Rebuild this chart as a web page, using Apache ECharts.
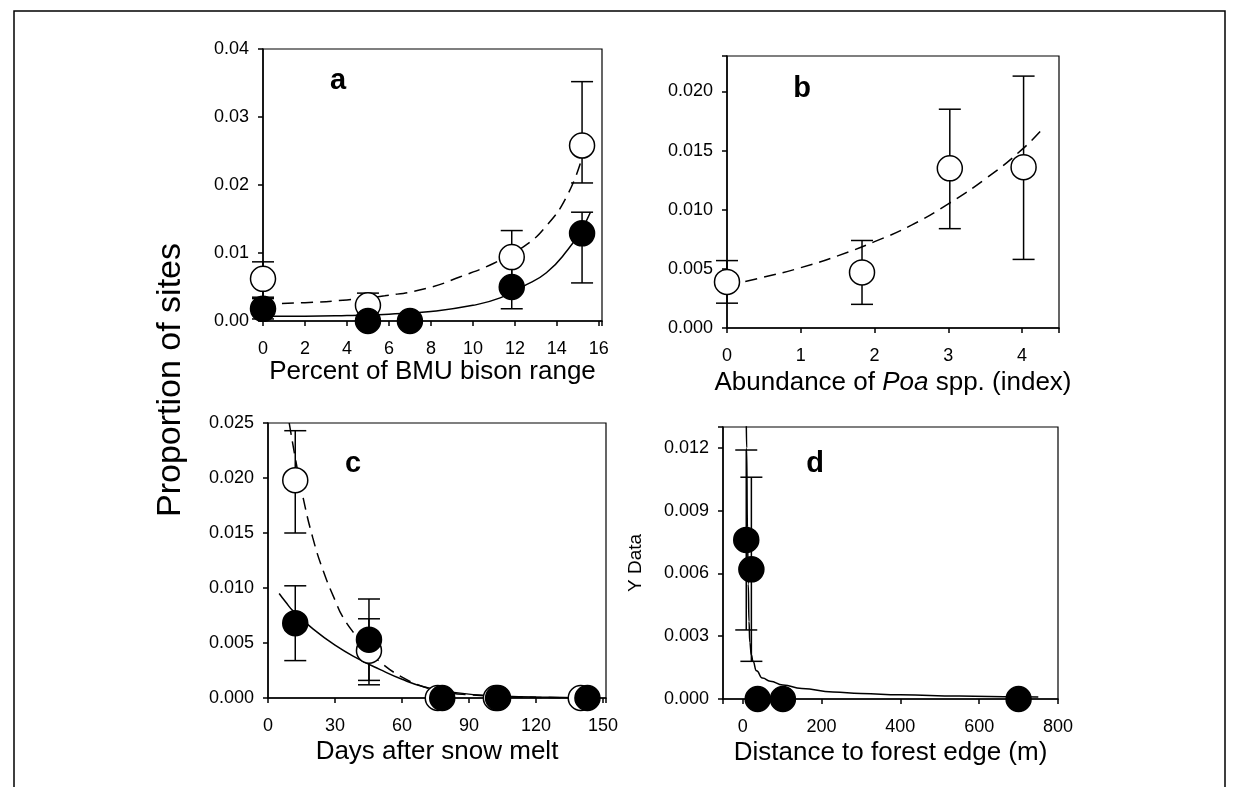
<!DOCTYPE html>
<html>
<head>
<meta charset="utf-8">
<script src="https://cdn.jsdelivr.net/npm/echarts@6/dist/echarts.min.js"></script>
<style>
html,body{margin:0;padding:0;background:#fff;}
#chart{width:1240px;height:787px;}
</style>
</head>
<body>
<div id="chart"></div>
<script>
// ---------------- Panel a: Percent of BMU bison range ----------------
const aOpenX  = [0, 5, 11.85, 15.2];
const aOpenY  = [0.0062, 0.0023, 0.0094, 0.0258];
const aOpenLo = [0.0035, 0.0003, 0.0055, 0.0203];
const aOpenHi = [0.0087, 0.0041, 0.0133, 0.0352];
const aFillX  = [0, 5, 7, 11.85, 15.2];
const aFillY  = [0.0018, 0, 0, 0.0050, 0.0129];
const aFillLo = [0.0003, null, null, 0.0018, 0.0056];
const aFillHi = [0.0033, null, null, 0.0085, 0.0160];
const aDashX  = [0, 2, 4, 5.8, 7.8, 9.4, 11, 12.4, 13.5, 14.5, 15.2];
const aDashY  = [0.0025, 0.0027, 0.0031, 0.0037, 0.0048, 0.0065, 0.0085, 0.0109, 0.0140, 0.0185, 0.0240];
const aSolidX = [0, 2, 4, 6, 8, 10, 11.3, 12.4, 13.5, 14.5, 15.2, 15.6];
const aSolidY = [0.0007, 0.0007, 0.0008, 0.0010, 0.0014, 0.0023, 0.0034, 0.0051, 0.0071, 0.0104, 0.0136, 0.0160];

// ---------------- Panel b: Abundance of Poa spp. ----------------
const bOpenX  = [0, 1.83, 3.02, 4.02];
const bOpenY  = [0.0039, 0.0047, 0.0135, 0.0136];
const bOpenLo = [0.0021, 0.0020, 0.0084, 0.0058];
const bOpenHi = [0.0057, 0.0074, 0.0185, 0.0213];
const bDashX  = [0, 0.5, 1, 1.5, 2, 2.5, 3, 3.5, 4, 4.3];
const bDashY  = [0.0036, 0.0043, 0.0051, 0.0061, 0.0073, 0.0087, 0.0105, 0.0126, 0.0151, 0.0170];

// ---------------- Panel c: Days after snow melt ----------------
const cOpenX  = [12.2, 45.2, 76, 102, 140];
const cOpenY  = [0.0198, 0.0043, 0, 0, 0];
const cOpenLo = [0.0150, 0.0012, null, null, null];
const cOpenHi = [0.0243, 0.0072, null, null, null];
const cFillX  = [12.2, 45.2, 78, 103, 143];
const cFillY  = [0.0068, 0.0053, 0, 0, 0];
const cFillLo = [0.0034, 0.0016, null, null, null];
const cFillHi = [0.0102, 0.0090, null, null, null];
const cDashX  = [9.5, 12.5, 15.4, 20, 25, 30, 33.4, 40, 45, 50, 60, 70, 80, 90, 110, 145];
const cDashY  = [0.0250, 0.0215, 0.0185, 0.0146, 0.0114, 0.0089, 0.0074, 0.0055, 0.0043, 0.0033, 0.0019, 0.0010, 0.0005, 0.0003, 0.0001, 0.0000];
const cSolidX = [5, 8, 11.3, 20, 30, 40, 50, 60, 70, 80, 100, 120, 145];
const cSolidY = [0.0095, 0.0087, 0.0079, 0.0063, 0.0048, 0.0036, 0.0026, 0.0017, 0.0010, 0.0006, 0.0002, 0.0001, 0.0000];

// ---------------- Panel d: Distance to forest edge ----------------
const dFillX  = [9, 22, 38, 102, 700];
const dFillY  = [0.0076, 0.0062, 0, 0, 0];
const dFillLo = [0.0033, 0.0018, null, null, null];
const dFillHi = [0.0119, 0.0106, null, null, null];
const dSolidX = [9, 10, 12, 14, 16, 18, 22, 26, 35, 50, 70, 102, 150, 229, 300, 400, 550, 700, 750];
const dSolidY = [0.0135, 0.0120, 0.0082, 0.0055, 0.0037, 0.0027, 0.0021, 0.0018, 0.00135, 0.0010, 0.00085, 0.00067, 0.00050, 0.00033, 0.00026, 0.00020, 0.00014, 0.00011, 0.00010];

// ---------------- Text ----------------
const yTitle = 'Proportion of sites';
const xTitles = ['Percent of BMU bison range', 'Abundance of {i|Poa} spp. (index)', 'Days after snow melt', 'Distance to forest edge (m)'];
const panelLetters = ['a', 'b', 'c', 'd'];
const dYName = 'Y Data';

const FONT = "'Liberation Sans', Arial, Helvetica, sans-serif";

function pts(xs, ys) { return xs.map((x, i) => [x, ys[i]]); }
function errs(xs, lo, hi) {
  const out = [];
  xs.forEach((x, i) => { if (lo[i] != null && hi[i] != null) out.push([x, lo[i], hi[i]]); });
  return out;
}
function multipleFmt(step, dec) {
  return function (v) {
    const k = Math.round(v / step);
    if (Math.abs(v - k * step) > step * 1e-6) return '';
    const val = k * step;
    return dec == null ? String(Math.round(val)) : val.toFixed(dec);
  };
}

const grids = [
  { left: 263, top: 49, width: 339, height: 272 },
  { left: 727, top: 56, width: 332, height: 272 },
  { left: 268, top: 423, width: 338, height: 275 },
  { left: 723, top: 427, width: 335, height: 272 }
].map(g => Object.assign(g, { show: true, borderColor: '#000', borderWidth: 1.2, backgroundColor: 'rgba(0,0,0,0)' }));

const axLine = { show: true, onZero: false, lineStyle: { color: '#000', width: 1.5 } };
const axTick = { show: true, inside: false, length: 5, lineStyle: { color: '#000', width: 1.5 } };

function xAx(i, min, max, interval, step, name, nameGap) {
  const o = {
    type: 'value', gridIndex: i, min: min, max: max,
    axisLine: axLine, axisTick: axTick, splitLine: { show: false },
    axisLabel: { color: '#000', fontSize: 18, fontFamily: FONT, margin: 19, formatter: multipleFmt(step, null), showMinLabel: true, showMaxLabel: true },
    name: name, nameLocation: 'middle', nameGap: nameGap,
    nameTextStyle: { color: '#000', fontSize: 26, fontFamily: FONT, rich: { i: { fontStyle: 'italic', fontSize: 26, fontFamily: FONT, color: '#000' } } }
  };
  if (interval != null) o.interval = interval;
  return o;
}
function yAx(i, max, interval, dec, name, nameGap) {
  return {
    type: 'value', gridIndex: i, min: 0, max: max, interval: interval,
    axisLine: axLine, axisTick: axTick, splitLine: { show: false },
    axisLabel: { color: '#000', fontSize: 18, fontFamily: FONT, margin: 14, formatter: multipleFmt(interval, dec) },
    name: name || '', nameLocation: 'middle', nameGap: nameGap || 0, nameRotate: 90,
    nameTextStyle: { color: '#000', fontSize: 19, fontFamily: FONT }
  };
}

function errSeries(i, data) {
  return {
    type: 'custom', xAxisIndex: i, yAxisIndex: i, z: 1, clip: false, silent: true,
    encode: { x: 0, y: [1, 2] },
    data: data,
    renderItem: function (params, api) {
      const x = api.value(0), lo = api.value(1), hi = api.value(2);
      const a = api.coord([x, lo]), b = api.coord([x, hi]);
      const w = 11;
      const st = { stroke: '#000', lineWidth: 1.5, fill: null };
      return { type: 'group', children: [
        { type: 'line', shape: { x1: a[0], y1: a[1], x2: b[0], y2: b[1] }, style: st },
        { type: 'line', shape: { x1: a[0] - w, y1: a[1], x2: a[0] + w, y2: a[1] }, style: st },
        { type: 'line', shape: { x1: b[0] - w, y1: b[1], x2: b[0] + w, y2: b[1] }, style: st }
      ] };
    }
  };
}
function curve(i, data, dashed, monotone) {
  const s = {
    type: 'line', xAxisIndex: i, yAxisIndex: i, z: 2, data: data, showSymbol: false, symbol: 'none',
    smooth: 0.5, clip: true, silent: true,
    lineStyle: { color: '#000', width: 1.5, type: dashed ? [12, 7] : 'solid' }
  };
  if (monotone) s.smoothMonotone = 'x';
  return s;
}
function dots(i, data, filled) {
  return {
    type: 'scatter', xAxisIndex: i, yAxisIndex: i, z: filled ? 4 : 3, data: data, symbol: 'circle', symbolSize: 25, silent: true, clip: false,
    itemStyle: { color: filled ? '#000' : '#fff', borderColor: '#000', borderWidth: 1.5, opacity: 1 }
  };
}

const option = {
  animation: false,
  backgroundColor: '#fff',
  grid: grids,
  xAxis: [
    xAx(0, 0, 16.15, 2, 2, xTitles[0], 38),
    xAx(1, 0, 4.5, 1, 1, xTitles[1], 42),
    xAx(2, 0, 151.3, 30, 30, xTitles[2], 41),
    xAx(3, -50, 800, null, 200, xTitles[3], 41)
  ],
  yAxis: [
    yAx(0, 0.04, 0.01, 2),
    yAx(1, 0.023, 0.005, 3),
    yAx(2, 0.025, 0.005, 3),
    yAx(3, 0.013, 0.003, 3, dYName, 78)
  ],
  series: [
    errSeries(0, errs(aOpenX, aOpenLo, aOpenHi)),
    errSeries(0, errs(aFillX, aFillLo, aFillHi)),
    curve(0, pts(aDashX, aDashY), true),
    curve(0, pts(aSolidX, aSolidY), false),
    dots(0, pts(aOpenX, aOpenY), false),
    dots(0, pts(aFillX, aFillY), true),

    errSeries(1, errs(bOpenX, bOpenLo, bOpenHi)),
    curve(1, pts(bDashX, bDashY), true),
    dots(1, pts(bOpenX, bOpenY), false),

    errSeries(2, errs(cOpenX, cOpenLo, cOpenHi)),
    errSeries(2, errs(cFillX, cFillLo, cFillHi)),
    curve(2, pts(cDashX, cDashY), true),
    curve(2, pts(cSolidX, cSolidY), false),
    dots(2, pts(cOpenX, cOpenY), false),
    dots(2, pts(cFillX, cFillY), true),

    errSeries(3, errs(dFillX, dFillLo, dFillHi)),
    curve(3, pts(dSolidX, dSolidY), false, true),
    dots(3, pts(dFillX, dFillY), true)
  ],
  graphic: [
    { type: 'rect', shape: { x: 14, y: 11, width: 1211, height: 800 }, style: { fill: null, stroke: '#000', lineWidth: 1.5 }, z: 0, silent: true },
    { type: 'text', x: 171, y: 380, rotation: Math.PI / 2, style: { text: yTitle, font: '34px ' + FONT, fill: '#000', textAlign: 'center', textVerticalAlign: 'middle' } },
    { type: 'text', x: 338, y: 81, style: { text: panelLetters[0], font: 'bold 29px ' + FONT, fill: '#000', textAlign: 'center', textVerticalAlign: 'middle' } },
    { type: 'text', x: 802, y: 89, style: { text: panelLetters[1], font: 'bold 29px ' + FONT, fill: '#000', textAlign: 'center', textVerticalAlign: 'middle' } },
    { type: 'text', x: 353, y: 464, style: { text: panelLetters[2], font: 'bold 29px ' + FONT, fill: '#000', textAlign: 'center', textVerticalAlign: 'middle' } },
    { type: 'text', x: 815, y: 464, style: { text: panelLetters[3], font: 'bold 29px ' + FONT, fill: '#000', textAlign: 'center', textVerticalAlign: 'middle' } }
  ]
};

const chart = echarts.init(document.getElementById('chart'), null, { renderer: 'canvas' });
chart.setOption(option);
</script>
</body>
</html>
